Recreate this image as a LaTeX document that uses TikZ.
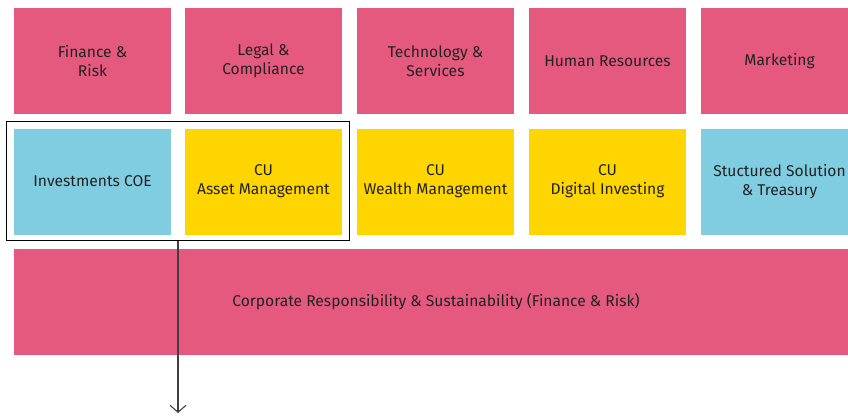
\documentclass[tikz,border=0pt]{standalone}
\usepackage{xcolor}
\usepackage{fontspec}
\setmainfont{Fira Sans}
\usetikzlibrary{arrows.meta}
\definecolor{pinkbox}{HTML}{E5597F}
\definecolor{bluebox}{HTML}{80CDE1}
\definecolor{yellowbox}{HTML}{FFD500}
\definecolor{txt}{HTML}{222222}
\begin{document}
\begin{tikzpicture}[x=1pt,y=-1pt,
    box/.style={minimum width=157pt, minimum height=106pt, inner sep=0pt,
      text=txt, align=center, font=\fontsize{15.6}{19}\selectfont},
    pinkb/.style={box, fill=pinkbox},
    blueb/.style={box, fill=bluebox},
    yellowb/.style={box, fill=yellowbox}]
  \clip (0,0) rectangle (848,416);
  % top row
  \node[pinkb] (fin) at (92.5,61) {Finance \&\\Risk};
  \node[pinkb] (legal) at (263.5,61) {Legal \&\\Compliance};
  \node[pinkb] (tech) at (435.5,61) {Technology \&\\Services};
  \node[pinkb] (hr) at (607.5,61) {Human Resources};
  \node[pinkb] (mkt) at (779.5,61) {Marketing};
  % second row
  \node[blueb] (inv) at (92.5,181.5) {Investments COE};
  \node[yellowb] (cuam) at (263.5,181.5) {CU\\Asset Management};
  \node[yellowb] (cuwm) at (435.5,181.5) {CU\\Wealth Management};
  \node[yellowb] (cudi) at (607.5,181.5) {CU\\Digital Investing};
  \node[blueb] (sst) at (779.5,181.5) {Stuctured Solution\\\& Treasury};
  % bar
  \node[pinkb, minimum width=844pt] (crs) at (436,302) {Corporate Responsibility \& Sustainability (Finance \& Risk)};
  % group outline
  \node[draw=black, line width=1pt, minimum width=343pt, minimum height=119.5pt,
    inner sep=0pt] (grp) at (178,180.75) {};
  \coordinate (out) at (178,413);
  \draw[black!75, line width=1.1pt, -{Straight Barb[length=7pt,width=16pt]}] (grp.south) -- (out);
\end{tikzpicture}
\end{document}
